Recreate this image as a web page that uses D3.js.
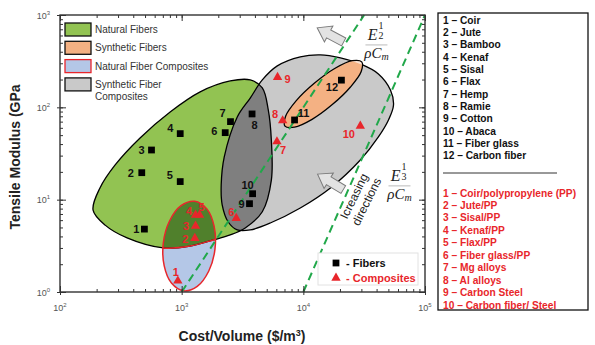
<!DOCTYPE html>
<html>
<head>
<meta charset="utf-8">
<script src="https://cdn.jsdelivr.net/npm/d3@7"></script>
<style>
  body { margin: 0; background: #fff; }
  svg { display: block; font-family: "Liberation Sans", Arial, sans-serif; }
</style>
</head>
<body>
<div id="chart"></div>
<script>
// ---- data (cost $/m3, tensile modulus GPa) ----
const fiberNames = ["Coir", "Jute", "Bamboo", "Kenaf", "Sisal", "Flax", "Hemp", "Ramie", "Cotton", "Abaca", "Fiber glass", "Carbon fiber"];
const fiberCost = [494, 470, 565, 973, 973, 2280, 2520, 3790, 3610, 3830, 8470, 20560];
const fiberModulus = [4.8, 19.6, 34.5, 51.9, 15.7, 53.2, 70, 84.8, 9.05, 11.6, 73, 197];

const compositeNames = ["Coir/polypropylene (PP)", "Jute/PP", "Sisal/PP", "Kenaf/PP", "Flax/PP", "Fiber glass/PP", "Mg alloys", "Al alloys", "Carbon Steel", "Carbon fiber/ Steel"];
const compositeCost = [930, 1283, 1300, 1300, 1403, 2810, 6070, 6760, 6140, 29400];
const compositeModulus = [1.32, 3.82, 5.19, 6.83, 6.83, 6.29, 42.5, 71.8, 212, 62.9];

// region outlines, [cost, modulus]
const naturalFibersOutline = [[187, 7.7], [213, 13.4], [284, 23.8], [455, 46.6], [804, 89], [1419, 147], [2506, 193], [3660, 198], [4600, 162], [5150, 94], [5460, 44], [5460, 16.3], [4600, 7.4], [3330, 4.94], [2506, 4.15], [1815, 3.66], [1175, 3.15], [705, 3.0], [356, 3.85], [235, 5.3]];
const syntheticCompOutline = [[2864, 4.7], [2415, 5.73], [2153, 8.8], [2113, 14.4], [2239, 29], [2864, 78.7], [3660, 126], [4600, 198], [6110, 281], [9440, 352], [13800, 370], [20200, 343], [29400, 295], [41400, 230], [52000, 154], [55100, 106], [50100, 73], [41400, 47.8], [29400, 26.9], [16700, 13.4], [9440, 8.13], [5350, 5.59], [3660, 4.7]];
const syntheticFibersOutline = [[30200, 311], [29900, 244], [24400, 166], [17300, 107], [11800, 74.1], [8470, 61], [7060, 62.7], [7150, 79.9], [8750, 118], [12300, 182], [18100, 263], [25200, 320]];
const naturalCompOutline = [[1279, 9.61], [1611, 7.95], [1849, 5.14], [1878, 2.91], [1671, 1.69], [1343, 1.15], [1038, 1.03], [824, 1.25], [718, 1.93], [707, 3.41], [795, 5.88], [988, 8.61]];

// guide lines E^(1/2)/(rho Cm) and E^(1/3)/(rho Cm) = const
const guideHalf = [[1000, 1], [31623, 1000]];
const guideThird = [[10000, 1], [100000, 1000]];

const xDecades = [100, 1000, 10000, 100000];
const yDecades = [1, 10, 100, 1000];
const legendNames = ["Natural Fibers", "Synthetic Fibers", "Natural Fiber Composites", "Synthetic Fiber Composites"];

// ---- layout ----
const W = 595, H = 345;
const plotLeft = 60, plotRight = 425, plotTop = 15, plotBottom = 292;
const red = "#e8262b";
const green = "#92c352", darkGreen = "#50802c";
const gray = "#c9c9c9", darkGray = "#7f7f7f";
const orange = "#f4b183", paleOrange = "#fbe4d5";
const blue = "#b4c7e7";

const svg = d3.select("#chart").append("svg").attr("width", W).attr("height", H);
const x = d3.scaleLog().domain([100, 1e5]).range([plotLeft, plotRight]);
const y = d3.scaleLog().domain([1, 1000]).range([plotBottom, plotTop]);

const outline = d3.line().x(d => x(d[0])).y(d => y(d[1])).curve(d3.curveCatmullRomClosed.alpha(0.5));
const straight = d3.line().x(d => x(d[0])).y(d => y(d[1]));

const defs = svg.append("defs");
[["clip-gray", syntheticCompOutline], ["clip-blue", naturalCompOutline]].forEach(([id, pts]) => {
  defs.append("clipPath").attr("id", id).append("path").attr("d", outline(pts));
});

const plot = svg.append("g");

// fills
plot.append("path").attr("d", outline(naturalFibersOutline)).attr("fill", green);
plot.append("path").attr("d", outline(syntheticCompOutline)).attr("fill", gray);
plot.append("path").attr("d", outline(naturalFibersOutline)).attr("fill", darkGray).attr("clip-path", "url(#clip-gray)");
plot.append("path").attr("d", outline(naturalCompOutline)).attr("fill", blue);
plot.append("path").attr("d", outline(naturalFibersOutline)).attr("fill", darkGreen).attr("clip-path", "url(#clip-blue)");

// outlines
plot.append("path").attr("d", outline(naturalFibersOutline)).attr("fill", "none").attr("stroke", "#000").attr("stroke-width", 1.3);
plot.append("path").attr("d", outline(syntheticCompOutline)).attr("fill", "none").attr("stroke", "#000").attr("stroke-width", 1.3);
plot.append("path").attr("d", outline(naturalFibersOutline)).attr("fill", "none").attr("stroke", red).attr("stroke-width", 1.5).attr("clip-path", "url(#clip-blue)");
plot.append("path").attr("d", outline(naturalCompOutline)).attr("fill", "none").attr("stroke", red).attr("stroke-width", 1.5);

// synthetic fibers ellipse (stronger where it sits on the gray region)
plot.append("path").attr("d", outline(syntheticFibersOutline)).attr("fill", paleOrange);
plot.append("path").attr("d", outline(syntheticFibersOutline)).attr("fill", orange).attr("clip-path", "url(#clip-gray)");
plot.append("path").attr("d", outline(syntheticFibersOutline)).attr("fill", "none").attr("stroke", "#000").attr("stroke-width", 1.3);

// guide lines
[guideHalf, guideThird].forEach(pts => {
  plot.append("path").attr("d", straight(pts))
    .attr("fill", "none").attr("stroke", "#21a84a").attr("stroke-width", 2)
    .attr("stroke-dasharray", "8,5");
});

// block arrows (increasing direction)
const arrowShape = "M-15,-4.5 L2,-4.5 L2,-9 L15,0 L2,9 L2,4.5 L-15,4.5 Z";
[{at: [16700, 609], angle: -152}, {at: [16700, 15.6], angle: -149}].forEach(a => {
  plot.append("path").attr("d", arrowShape)
    .attr("transform", `translate(${x(a.at[0])},${y(a.at[1])}) rotate(${a.angle})`)
    .attr("fill", "#e3e3e3").attr("stroke", "#7a7a7a").attr("stroke-width", 1);
});

// equations
function equation(cx, barY, exp) {
  const g = svg.append("g").attr("font-family", "'Liberation Serif', 'DejaVu Serif', serif").attr("fill", "#222");
  g.append("text").attr("x", cx + 1).attr("y", barY - 5).attr("text-anchor", "end")
    .attr("font-size", 16).attr("font-style", "italic").text("E");
  g.append("text").attr("x", cx + 4.5).attr("y", barY - 16).attr("text-anchor", "middle").attr("font-size", 10).text("1");
  g.append("text").attr("x", cx + 4.5).attr("y", barY - 6).attr("text-anchor", "middle").attr("font-size", 10).text(exp);
  g.append("line").attr("x1", cx - 11).attr("x2", cx + 11).attr("y1", barY).attr("y2", barY)
    .attr("stroke", "#bbb").attr("stroke-width", 1);
  const t = g.append("text").attr("x", cx).attr("y", barY + 13).attr("text-anchor", "middle")
    .attr("font-size", 15).attr("font-style", "italic");
  t.append("tspan").text("ρC");
  t.append("tspan").attr("font-size", 10).attr("dy", 2).text("m");
}
equation(x(39900), y(474), "2");
equation(x(61700), y(14.1), "3");

// "Icreasing directions"
const dirText = svg.append("g").attr("font-size", 12).attr("fill", "#222");
[["Icreasing", 354, 196], ["directions", 366.5, 201.5]].forEach(([s, tx, ty]) => {
  dirText.append("text").attr("transform", `translate(${tx},${ty}) rotate(-64)`)
    .attr("text-anchor", "middle").attr("dy", "0.35em").text(s);
});

// ---- markers ----
const fiberLabelOffset = {1: [-8, 0], 2: [-11, 0], 3: [-10, 0], 4: [-10, -5], 5: [-10.5, -6.5], 6: [-11, -1], 7: [-8, -8], 8: [2.5, 11], 9: [-8, 0], 10: [-5, -9], 11: [9, -7], 12: [-9.5, 7]};
const compLabelOffset = {1: [-2, -9], 2: [-9.5, 1], 3: [-9.5, 0], 4: [-6.5, -3.5], 5: [2, -8], 6: [-5, -6.5], 7: [6, 8.5], 8: [-7.5, -6.5], 9: [10, 2], 10: [-11.5, 8]};

const fibers = fiberNames.map((name, i) => ({id: i + 1, name, cost: fiberCost[i], modulus: fiberModulus[i]}));
const composites = compositeNames.map((name, i) => ({id: i + 1, name, cost: compositeCost[i], modulus: compositeModulus[i]}));

const square = d3.symbol().type(d3.symbolSquare).size(46);
const triangle = d3.symbol().type(d3.symbolTriangle).size(38);

plot.selectAll("path.fiber").data(fibers).join("path").attr("class", "fiber")
  .attr("d", square).attr("transform", d => `translate(${x(d.cost)},${y(d.modulus)})`)
  .attr("fill", "#000");
plot.selectAll("path.comp").data(composites).join("path").attr("class", "comp")
  .attr("d", triangle).attr("transform", d => `translate(${x(d.cost)},${y(d.modulus)})`)
  .attr("fill", red);

plot.selectAll("text.fiber").data(fibers).join("text").attr("class", "fiber")
  .attr("x", d => x(d.cost) + fiberLabelOffset[d.id][0])
  .attr("y", d => y(d.modulus) + fiberLabelOffset[d.id][1])
  .attr("dy", "0.35em").attr("text-anchor", "middle")
  .attr("font-size", 11).attr("font-weight", "bold").attr("fill", "#111").text(d => d.id);
plot.selectAll("text.comp").data(composites).join("text").attr("class", "comp")
  .attr("x", d => x(d.cost) + compLabelOffset[d.id][0])
  .attr("y", d => y(d.modulus) + compLabelOffset[d.id][1])
  .attr("dy", "0.35em").attr("text-anchor", "middle")
  .attr("font-size", 11).attr("font-weight", "bold").attr("fill", red).text(d => d.id);

// ---- axes ----
const axisG = svg.append("g").attr("color", "#333");
const minorX = x.ticks(), minorY = y.ticks();
axisG.append("g").attr("transform", `translate(0,${plotBottom})`).call(d3.axisBottom(x).tickValues(minorX).tickSize(-3).tickSizeOuter(0).tickFormat(""));
axisG.append("g").attr("transform", `translate(0,${plotBottom})`).call(d3.axisBottom(x).tickValues(xDecades).tickSize(-6).tickSizeOuter(0).tickFormat(""));
axisG.append("g").attr("transform", `translate(0,${plotBottom})`).call(d3.axisBottom(x).tickValues(xDecades).tickSize(3).tickSizeOuter(0).tickFormat(""));
axisG.append("g").attr("transform", `translate(0,${plotTop})`).call(d3.axisTop(x).tickValues(minorX).tickSize(-3).tickSizeOuter(0).tickFormat(""));
axisG.append("g").attr("transform", `translate(0,${plotTop})`).call(d3.axisTop(x).tickValues(xDecades).tickSize(-6).tickSizeOuter(0).tickFormat(""));
axisG.append("g").attr("transform", `translate(${plotLeft},0)`).call(d3.axisLeft(y).tickValues(minorY).tickSize(-3).tickSizeOuter(0).tickFormat(""));
axisG.append("g").attr("transform", `translate(${plotLeft},0)`).call(d3.axisLeft(y).tickValues(yDecades).tickSize(-6).tickSizeOuter(0).tickFormat(""));
axisG.append("g").attr("transform", `translate(${plotLeft},0)`).call(d3.axisLeft(y).tickValues(yDecades).tickSize(3).tickSizeOuter(0).tickFormat(""));
axisG.append("g").attr("transform", `translate(${plotRight},0)`).call(d3.axisRight(y).tickValues(minorY).tickSize(-3).tickSizeOuter(0).tickFormat(""));
axisG.append("g").attr("transform", `translate(${plotRight},0)`).call(d3.axisRight(y).tickValues(yDecades).tickSize(-6).tickSizeOuter(0).tickFormat(""));
axisG.selectAll(".domain").remove();
axisG.selectAll(".tick line").attr("stroke-width", 1);
svg.append("rect").attr("x", plotLeft).attr("y", plotTop).attr("width", plotRight - plotLeft).attr("height", plotBottom - plotTop)
  .attr("fill", "none").attr("stroke", "#333").attr("stroke-width", 1.4);

// decade labels
const exp = v => Math.round(Math.log10(v));
xDecades.forEach(v => {
  const t = svg.append("text").attr("x", x(v)).attr("y", plotBottom + 19).attr("text-anchor", "middle")
    .attr("font-size", 9).attr("fill", "#555").text("10");
  t.append("tspan").attr("dy", -4).attr("font-size", 6).text(exp(v));
});
yDecades.forEach(v => {
  const t = svg.append("text").attr("x", plotLeft - 10).attr("y", y(v) + 3.5).attr("text-anchor", "end")
    .attr("font-size", 9).attr("fill", "#555").text("10");
  t.append("tspan").attr("dy", -4).attr("font-size", 6).text(exp(v));
});

// axis titles
const xt = svg.append("text").attr("x", 242).attr("y", 341).attr("text-anchor", "middle")
  .attr("font-size", 14).attr("font-weight", "bold").attr("fill", "#222").text("Cost/Volume ($/m");
xt.append("tspan").attr("dy", -5).attr("font-size", 9).text("3");
xt.append("tspan").attr("dy", 5).text(")");
svg.append("text").attr("transform", "translate(20,157) rotate(-90)").attr("text-anchor", "middle")
  .attr("font-size", 14).attr("font-weight", "bold").attr("fill", "#222").text("Tensile Modulus (GPa");

// ---- region legend ----
const legendFill = [green, orange, blue, gray];
const legendStroke = ["#111", "#111", red, "#111"];
const legend = svg.append("g").attr("transform", "translate(65,23)");
legendNames.forEach((name, i) => {
  legend.append("rect").attr("x", 0).attr("y", i * 18.3).attr("width", 26).attr("height", 13)
    .attr("fill", legendFill[i]).attr("stroke", legendStroke[i]).attr("stroke-width", 1.3);
  const lines = i === 3 ? ["Synthetic Fiber", "Composites"] : [name];
  lines.forEach((s, j) => {
    legend.append("text").attr("x", 30).attr("y", i * 18.3 + 10 + j * 12.5)
      .attr("font-size", 10).attr("fill", "#333").text(s);
  });
});

// ---- marker legend ----
const ml = svg.append("g");
ml.append("rect").attr("x", 318).attr("y", 253).attr("width", 100).attr("height", 32)
  .attr("fill", "#fff").attr("stroke", "#e2e2e2");
ml.append("path").attr("d", square).attr("transform", "translate(336,263)").attr("fill", "#000");
ml.append("text").attr("x", 346).attr("y", 267).attr("font-size", 11).attr("font-weight", "bold").attr("fill", "#111").text("- Fibers");
ml.append("path").attr("d", triangle).attr("transform", "translate(336,278)").attr("fill", red);
ml.append("text").attr("x", 346).attr("y", 282).attr("font-size", 11).attr("font-weight", "bold").attr("fill", red).text("- Composites");

// ---- key box ----
const key = svg.append("g");
key.append("rect").attr("x", 438).attr("y", 13).attr("width", 150).attr("height", 297)
  .attr("fill", "#fff").attr("stroke", "#111").attr("stroke-width", 1.3);
fibers.forEach((d, i) => {
  key.append("text").attr("x", 443).attr("y", 20 + i * 12.34).attr("dy", "0.35em")
    .attr("font-size", 10.2).attr("font-weight", "bold").attr("fill", "#111").text(`${d.id} – ${d.name}`);
});
key.append("line").attr("x1", 443).attr("x2", 557).attr("y1", 173).attr("y2", 173).attr("stroke", "#333");
composites.forEach((d, i) => {
  key.append("text").attr("x", 443).attr("y", 193 + i * 12.44).attr("dy", "0.35em")
    .attr("font-size", 10.2).attr("font-weight", "bold").attr("fill", red).text(`${d.id} – ${d.name}`);
});
</script>
</body>
</html>
